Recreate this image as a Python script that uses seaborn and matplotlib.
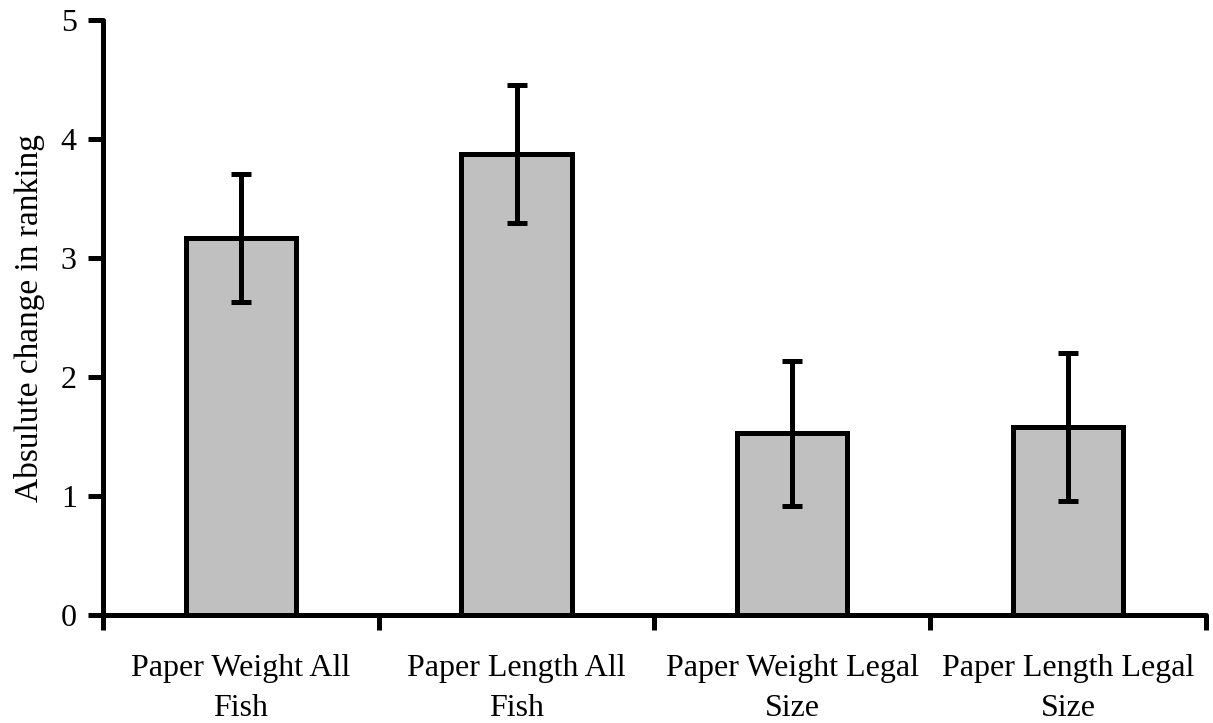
import seaborn as sns
import pandas as pd
import matplotlib.pyplot as plt
import numpy as np

categories = ["Paper Weight All\nFish", "Paper Length All\nFish",
              "Paper Weight Legal\nSize", "Paper Length Legal\nSize"]
mean_change = [3.17, 3.88, 1.53, 1.58]
err_change = [0.54, 0.58, 0.61, 0.62]
y_ticks = [0, 1, 2, 3, 4, 5]

df = pd.DataFrame({"group": categories, "change": mean_change, "err": err_change})

sns.set_style("white", {"text.color": "black", "axes.labelcolor": "black",
                        "xtick.color": "black", "ytick.color": "black"})
plt.rcParams['font.family'] = ['Liberation Serif', 'DejaVu Serif']

fig = plt.figure(figsize=(12.13, 7.23), dpi=100)
ax = fig.add_axes([0.085, 0.149, 0.909, 0.823])

sns.barplot(data=df, x="group", y="change", color="#C0C0C0", width=0.4,
            edgecolor="black", linewidth=3.6, saturation=1, ax=ax)
ax.errorbar(np.arange(len(df)), df["change"], yerr=df["err"], fmt="none",
            ecolor="black", elinewidth=3.6, capsize=7, capthick=3.6)

ax.set_ylim(0, 5)
ax.set_xlim(-0.5, len(df) - 0.5)
ax.set_yticks(y_ticks)
ax.set_xlabel("")
ax.set_ylabel("Absulute change in ranking", fontsize=24, labelpad=11)

# category labels centred, tick marks on category boundaries
ax.set_xticks(np.arange(len(df)))
ax.set_xticklabels(categories, fontsize=23, linespacing=1.5)
ax.set_xticks(np.arange(len(df) + 1) - 0.5, minor=True)
ax.tick_params(axis="x", which="major", bottom=True, length=0, pad=28)
ax.tick_params(axis="x", which="minor", bottom=True, length=11, width=3.6, direction="out")
ax.tick_params(axis="y", left=True, labelsize=23, length=11, width=3.6, direction="out", pad=8)

for side in ["top", "right"]:
    ax.spines[side].set_visible(False)
for side in ["left", "bottom"]:
    ax.spines[side].set_linewidth(3.6)
    ax.spines[side].set_color("black")
    ax.spines[side].set_capstyle("round")

fig.savefig("out.png", dpi=100)
